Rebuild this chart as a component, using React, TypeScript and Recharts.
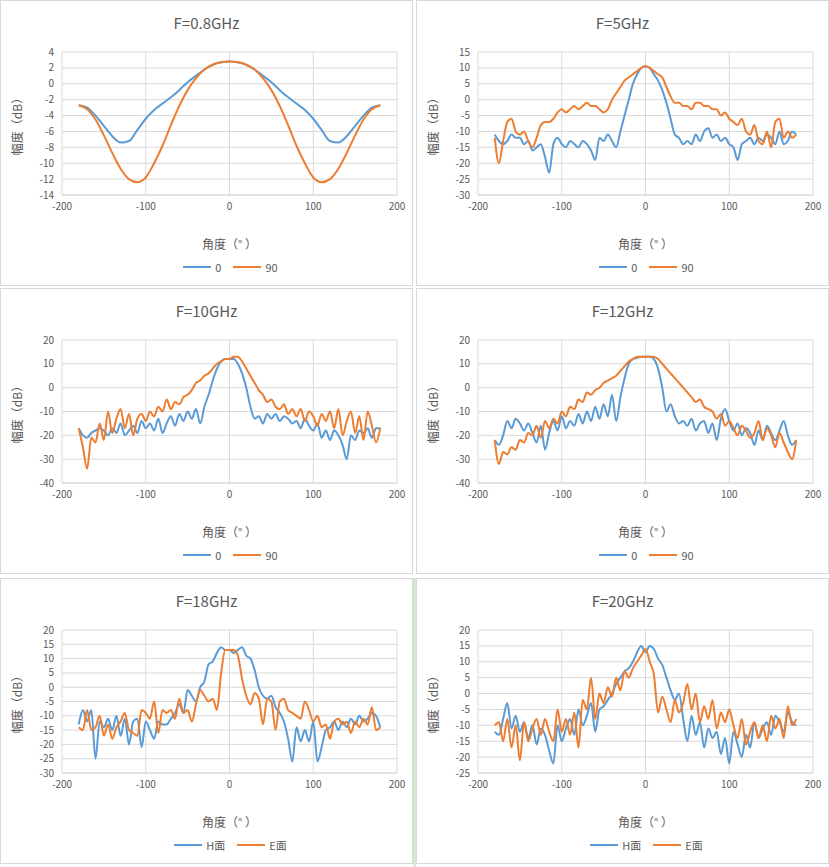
import React from "react";
import { LineChart, Line, XAxis, YAxis, CartesianGrid, Label } from "recharts";

const FONT = "'Noto Sans CJK SC', 'Noto Sans', sans-serif";
const BLUE = "#5B9BD5";
const ORANGE = "#ED7D31";

// 0.8GHz, every 10°
const angles10 = [-180, -170, -160, -150, -140, -130, -120, -110, -100, -90, -80, -70, -60, -50, -40, -30, -20, -10, 0, 10, 20, 30, 40, 50, 60, 70, 80, 90, 100, 110, 120, 130, 140, 150, 160, 170, 180];
const f08_0 = [-2.7, -3, -4, -5.3, -6.6, -7.4, -7.2, -5.8, -4.4, -3.3, -2.5, -1.7, -0.8, 0.2, 1, 1.8, 2.4, 2.7, 2.8, 2.7, 2.4, 1.8, 1, 0.2, -0.8, -1.7, -2.5, -3.3, -4.4, -5.8, -7.2, -7.4, -6.6, -5.3, -4, -3, -2.7];
const f08_90 = [-2.7, -3.2, -4.5, -6.5, -8.7, -10.7, -12, -12.4, -11.8, -10, -7.8, -5.2, -2.8, -0.8, 0.7, 1.8, 2.4, 2.7, 2.8, 2.7, 2.4, 1.8, 0.7, -0.8, -2.8, -5.2, -7.8, -10, -11.8, -12.4, -12, -10.7, -8.7, -6.5, -4.5, -3.2, -2.7];

// other bands, every 5° from -180 to 180
const angles5 = [-180, -175, -170, -165, -160, -155, -150, -145, -140, -135, -130, -125, -120, -115, -110, -105, -100, -95, -90, -85, -80, -75, -70, -65, -60, -55, -50, -45, -40, -35, -30, -25, -20, -15, -10, -5, 0, 5, 10, 15, 20, 25, 30, 35, 40, 45, 50, 55, 60, 65, 70, 75, 80, 85, 90, 95, 100, 105, 110, 115, 120, 125, 130, 135, 140, 145, 150, 155, 160, 165, 170, 175, 180];

const f5_0 = [-11, -13, -14, -13, -11, -12, -12, -14, -13, -16, -15, -14, -18, -23, -14, -12, -14, -15, -13, -14, -15, -13, -14, -16, -19, -12, -13, -11, -13, -15, -10, -5, 0, 5, 8, 10, 10.5, 10, 8, 6, 3, -1, -6, -11, -12, -14, -13, -14, -11, -13, -10, -9, -12, -11, -13, -12, -14, -15, -19, -14, -13, -12, -14, -12, -13, -11, -12, -14, -10, -14, -13, -10, -11];
const f5_90 = [-12, -20, -13, -7, -6, -10, -11, -10, -13, -15, -12, -8, -7, -7, -6, -4, -3, -4, -3, -2, -3, -2, -1, -2, -2, -3, -4, -3, 0, 2, 4, 6, 7, 8, 9, 10, 10.5, 10, 9, 8, 7, 4, 1, -1, -1, -2, -2, -3, -1, -1, -2, -2, -3, -3, -5, -4, -6, -7, -8, -6, -10, -11, -8, -13, -14, -10, -15, -7, -6, -12, -10, -12, -11];

const f10_0 = [-17, -20, -21, -19, -18, -17, -18, -20, -17, -19, -15, -20, -18, -16, -19, -14, -17, -15, -18, -13, -19, -15, -12, -16, -11, -14, -10, -13, -9, -15, -8, -3, 3, 8, 11, 12, 12, 12, 10, 6, 0, -8, -13, -12, -15, -11, -13, -11, -14, -12, -13, -15, -14, -17, -13, -16, -18, -15, -21, -18, -22, -18, -20, -24, -30, -20, -22, -18, -19, -17, -21, -17, -17];
const f10_90 = [-17, -25, -34, -21, -23, -15, -22, -10, -19, -13, -9, -17, -11, -20, -13, -11, -14, -10, -12, -8, -10, -5, -9, -6, -7, -4, -3, -1, 2, 3, 5, 6, 8, 10, 11, 12, 12, 13, 13, 11, 8, 5, 2, -1, -3, -6, -5, -8, -9, -7, -11, -9, -12, -9, -14, -10, -12, -16, -11, -14, -10, -17, -9, -20, -14, -10, -19, -12, -22, -10, -16, -23, -17];

const f12_0 = [-22, -24, -20, -14, -17, -13, -15, -18, -15, -19, -23, -16, -26, -19, -14, -18, -12, -17, -14, -16, -11, -15, -10, -14, -8, -13, -7, -12, -3, -14, -4, 4, 10, 12, 12.5, 13, 13, 13, 12, 8, 0, -10, -7, -12, -15, -14, -16, -13, -18, -15, -14, -19, -15, -22, -13, -9, -14, -18, -15, -20, -17, -19, -24, -18, -22, -16, -19, -22, -18, -14, -20, -24, -22];
const f12_90 = [-22, -32, -27, -28, -25, -26, -22, -23, -19, -20, -16, -21, -14, -17, -13, -15, -10, -12, -8, -9, -5, -6, -2, -3, -1, 0, 2, 3, 4, 5, 7, 9, 11, 12, 13, 13, 13, 13, 13, 12, 10, 8, 6, 4, 2, 0, -2, -4, -6, -5, -8, -9, -10, -13, -11, -16, -14, -17, -20, -16, -18, -21, -19, -14, -22, -17, -20, -25, -19, -23, -27, -30, -22];

const f18_h = [-13, -8, -12, -8, -25, -12, -14, -11, -15, -10, -17, -11, -20, -12, -11, -21, -12, -15, -18, -12, -13, -13, -11, -9, -6, -9, -1, -3, -5, 0, 2, 8, 9, 12, 14, 13, 13, 12, 13, 14, 11, 10, 6, 0, -3, -4, -3, -7, -9, -12, -18, -26, -14, -19, -15, -19, -12, -26, -21, -15, -14, -12, -15, -12, -14, -11, -13, -10, -12, -11, -9, -10, -14];
const f18_e = [-14, -15, -8, -15, -14, -10, -17, -13, -18, -14, -12, -9, -15, -16, -17, -8, -9, -11, -5, -16, -8, -9, -8, -11, -4, -9, -8, -12, -6, -1, -3, -5, -4, -8, 5, 13, 13, 13, 11, 3, -3, -6, -2, -4, -13, -4, -5, -15, -5, -4, -8, -9, -10, -11, -5, -8, -12, -10, -14, -13, -18, -12, -11, -13, -12, -16, -12, -14, -11, -13, -7, -15, -14];

const f20_h = [-12, -13, -8, -3, -11, -7, -12, -9, -14, -10, -16, -11, -13, -18, -22, -10, -15, -11, -8, -13, -5, -10, -7, -3, -12, -5, -4, -2, 0, 3, 5, 7, 8, 10, 13, 15, 13, 15, 14, 11, 9, 5, 1, -2, 0, -8, -15, -7, -13, -9, -17, -11, -14, -12, -19, -14, -22, -12, -16, -20, -13, -17, -9, -14, -11, -9, -13, -7, -9, -12, -6, -9, -10];
const f20_e = [-10, -9, -15, -8, -17, -10, -21, -9, -15, -11, -8, -13, -8, -12, -15, -5, -12, -8, -13, -6, -17, -2, -5, 5, -8, 0, -3, 2, -1, 5, 1, 7, 5, 8, 10, 12, 14, 10, 6, -6, -1, -5, -9, -2, -6, -3, 3, -5, 0, -9, -4, -8, -2, -11, -6, -9, -5, -10, -14, -8, -16, -12, -9, -14, -10, -15, -7, -11, -8, -14, -4, -10, -8];

const zip = (xs: number[], a: number[], b: number[]) => xs.map((x, i) => ({ x, a: a[i], b: b[i] }));

const panels = [
  { title: "F=0.8GHz", data: zip(angles10, f08_0, f08_90), yTicks: [-14, -12, -10, -8, -6, -4, -2, 0, 2, 4], names: ["0", "90"], left: 0, top: 0 },
  { title: "F=5GHz", data: zip(angles5, f5_0, f5_90), yTicks: [-30, -25, -20, -15, -10, -5, 0, 5, 10, 15], names: ["0", "90"], left: 416, top: 0 },
  { title: "F=10GHz", data: zip(angles5, f10_0, f10_90), yTicks: [-40, -30, -20, -10, 0, 10, 20], names: ["0", "90"], left: 0, top: 288 },
  { title: "F=12GHz", data: zip(angles5, f12_0, f12_90), yTicks: [-40, -30, -20, -10, 0, 10, 20], names: ["0", "90"], left: 416, top: 288 },
  { title: "F=18GHz", data: zip(angles5, f18_h, f18_e), yTicks: [-30, -25, -20, -15, -10, -5, 0, 5, 10, 15, 20], names: ["H面", "E面"], left: 0, top: 578 },
  { title: "F=20GHz", data: zip(angles5, f20_h, f20_e), yTicks: [-25, -20, -15, -10, -5, 0, 5, 10, 15, 20], names: ["H面", "E面"], left: 416, top: 578 },
];

const W = 413;
const H = 286;
const tick = { fontSize: 10, fill: "#595959", fontFamily: FONT };

function Panel({ p }: { p: (typeof panels)[number] }) {
  const yMin = p.yTicks[0];
  const yMax = p.yTicks[p.yTicks.length - 1];
  return (
    <div style={{ position: "absolute", left: p.left, top: p.top, width: W, height: H, border: "1px solid #d9d9d9", boxSizing: "border-box", background: "#fff" }}>
      <div style={{ position: "absolute", top: 11, width: "100%", textAlign: "center", fontSize: 15, color: "#595959", fontFamily: FONT }}>{p.title}</div>
      <LineChart width={W - 2} height={H - 2} data={p.data} margin={{ top: 51, right: 15, bottom: 36, left: 29 }}>
        <CartesianGrid stroke="#d9d9d9" strokeWidth={1} />
        <XAxis dataKey="x" type="number" domain={[-200, 200]} ticks={[-200, -100, 0, 100, 200]} tick={tick} axisLine={{ stroke: "#d9d9d9" }} tickLine={false} height={54}>
          <Label value="角度（°  ）" position="insideBottom" offset={0} style={{ fontSize: 12, fill: "#595959", fontFamily: FONT }} />
        </XAxis>
        <YAxis type="number" domain={[yMin, yMax]} ticks={p.yTicks} interval={0} tick={tick} axisLine={false} tickLine={false} width={32}>
          <Label value="幅度（dB）" angle={-90} position="insideLeft" offset={-12} style={{ fontSize: 12, fill: "#595959", fontFamily: FONT, textAnchor: "middle" }} />
        </YAxis>
        <Line dataKey="a" type="monotone" stroke={BLUE} strokeWidth={2} dot={false} isAnimationActive={false} />
        <Line dataKey="b" type="monotone" stroke={ORANGE} strokeWidth={2} dot={false} isAnimationActive={false} />
      </LineChart>
      <div style={{ position: "absolute", top: 258, left: 62, width: 335, display: "flex", justifyContent: "center", gap: 12, fontSize: 11, color: "#595959", fontFamily: FONT }}>
        {p.names.map((n, i) => (
          <span key={n} style={{ display: "flex", alignItems: "center", gap: 4 }}>
            <span style={{ display: "inline-block", width: 28, height: 2, background: i === 0 ? BLUE : ORANGE }} />
            {n}
          </span>
        ))}
      </div>
    </div>
  );
}

export default function App() {
  return (
    <div style={{ position: "fixed", left: 0, top: 0, width: 829, height: 867, background: "#fff" }}>
      {panels.map((p) => (
        <Panel key={p.title} p={p} />
      ))}
      <div style={{ position: "absolute", left: 413, top: 578, width: 3, height: 289, background: "#d5e8d4" }} />
    </div>
  );
}
